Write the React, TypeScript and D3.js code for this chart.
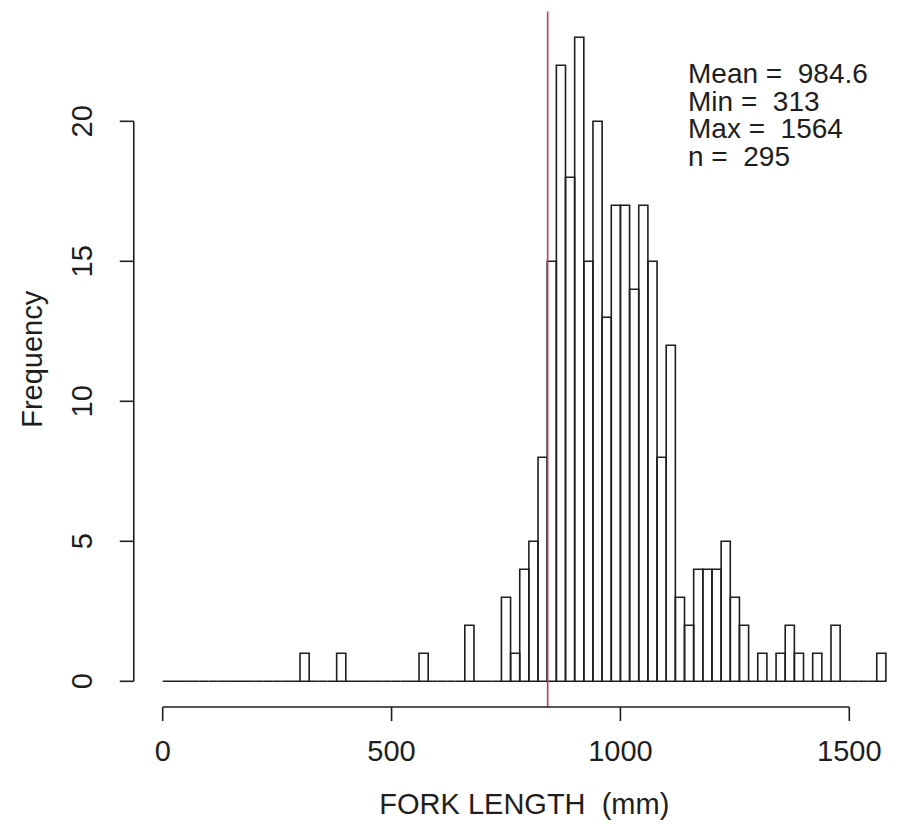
import React from "react";
import * as d3 from "d3";

// ---- data ----
const binWidth = 20;
const binOrigin = 0;
// counts for consecutive 20 mm bins starting at 0 mm (0-20, 20-40, ... 1560-1580)
const counts: number[] = [
  0, 0, 0, 0, 0, 0, 0, 0, 0, 0,
  0, 0, 0, 0, 0, 1, 0, 0, 0, 1,
  0, 0, 0, 0, 0, 0, 0, 0, 1, 0,
  0, 0, 0, 2, 0, 0, 0, 3, 1, 4,
  5, 8, 15, 22, 18, 23, 15, 20, 13, 17,
  17, 14, 17, 15, 8, 12, 3, 2, 4, 4,
  4, 5, 3, 2, 0, 1, 0, 1, 2, 1,
  0, 1, 0, 2, 0, 0, 0, 0, 1,
];
const xTicks = [0, 500, 1000, 1500];
const yTicks = [0, 5, 10, 15, 20];
const refLineValue = 841;
const annotations = ["Mean =  984.6", "Min =  313", "Max =  1564", "n =  295"];
const xTitle = "FORK LENGTH  (mm)";
const yTitle = "Frequency";

const W = 901;
const H = 825;
const FONT = "'Liberation Sans', Arial, sans-serif";
const INK = "#1e1e1e";

export default function App() {
  const x = d3.scaleLinear().domain([0, 1500]).range([162.7, 849.3]);
  const y = d3.scaleLinear().domain([0, 20]).range([681.3, 121.3]);
  const yMax = d3.max(counts) as number;
  const nBins = counts.length;
  const xEnd = binOrigin + nBins * binWidth;
  // R-style plot region (4% extension)
  const yTop = y(yMax + 0.04 * yMax);
  const yBot = y(-0.04 * yMax);
  const xLeft = x(binOrigin - 0.04 * (xEnd - binOrigin));
  const xRight = x(xEnd + 0.04 * (xEnd - binOrigin));
  const axisY = yBot;
  const axisX = xLeft;
  const tickLen = 14;

  const barPath = (c: number, i: number) => {
    const x0 = x(binOrigin + i * binWidth);
    const x1 = x(binOrigin + (i + 1) * binWidth);
    const p = d3.path();
    p.moveTo(x0, y(0));
    p.lineTo(x0, y(c));
    p.lineTo(x1, y(c));
    p.lineTo(x1, y(0));
    p.closePath();
    return p.toString();
  };

  return (
    <svg
      width={W}
      height={H}
      style={{ position: "absolute", left: 0, top: 0, background: "#fff" }}
      fontFamily={FONT}
    >
      <rect x={0} y={0} width={W} height={H} fill="#fff" />
      {/* bars */}
      <g fill="none" stroke={INK} strokeWidth={1.6} strokeLinejoin="miter">
        {counts.map((c, i) => (
          <path key={i} d={barPath(c, i)} />
        ))}
      </g>
      {/* reference line */}
      <line
        x1={x(refLineValue)}
        x2={x(refLineValue)}
        y1={yTop}
        y2={yBot}
        stroke="#c23a4c"
        strokeWidth={1.6}
      />
      {/* x axis */}
      <g stroke={INK} strokeWidth={1.6}>
        <line x1={x(xTicks[0])} x2={x(xTicks[xTicks.length - 1])} y1={axisY} y2={axisY} />
        {xTicks.map((t) => (
          <line key={t} x1={x(t)} x2={x(t)} y1={axisY} y2={axisY + tickLen} />
        ))}
      </g>
      <g fill={INK} fontSize={29} textAnchor="middle">
        {xTicks.map((t) => (
          <text key={t} x={x(t)} y={761}>
            {t}
          </text>
        ))}
        <text x={(xLeft + xRight) / 2} y={814} style={{ whiteSpace: "pre" }}>
          {xTitle}
        </text>
      </g>
      {/* y axis */}
      <g stroke={INK} strokeWidth={1.6}>
        <line x1={axisX} x2={axisX} y1={y(yTicks[0])} y2={y(yTicks[yTicks.length - 1])} />
        {yTicks.map((t) => (
          <line key={t} x1={axisX - tickLen} x2={axisX} y1={y(t)} y2={y(t)} />
        ))}
      </g>
      <g fill={INK} fontSize={29} textAnchor="middle">
        {yTicks.map((t) => (
          <text key={t} transform={`translate(92,${y(t)}) rotate(-90)`}>
            {t}
          </text>
        ))}
        <text transform={`translate(42,${(yTop + yBot) / 2}) rotate(-90)`}>{yTitle}</text>
      </g>
      {/* annotations */}
      <g fill={INK} fontSize={28}>
        {annotations.map((a, i) => (
          <text key={i} x={688} y={83 + i * 27.5} style={{ whiteSpace: "pre" }}>
            {a}
          </text>
        ))}
      </g>
    </svg>
  );
}
